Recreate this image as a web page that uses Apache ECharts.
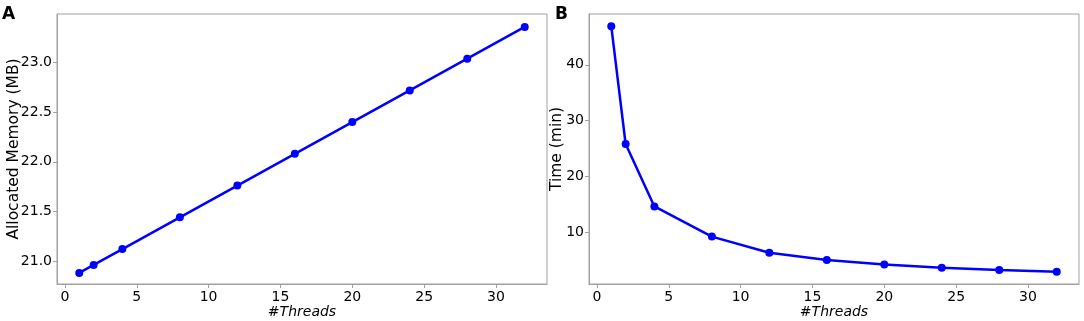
<!DOCTYPE html>
<html>
<head>
<meta charset="utf-8">
<script src="https://cdn.jsdelivr.net/npm/echarts@6/dist/echarts.min.js"></script>
<style>
  html, body { margin: 0; padding: 0; background: #fff; }
  #main { width: 1084px; height: 321px; }
</style>
</head>
<body>
<div id="main"></div>
<script>
// thread counts shared by both panels
const threads = [1, 2, 4, 8, 12, 16, 20, 24, 28, 32];
// panel A: allocated memory (MB)
const memoryMB = [20.88, 20.96, 21.12, 21.44, 21.76, 22.08, 22.40, 22.72, 23.04, 23.36];
// panel B: run time (min)
const timeMin = [46.9, 25.8, 14.6, 9.2, 6.3, 5.0, 4.2, 3.6, 3.2, 2.9];

const xTicks = [0, 5, 10, 15, 20, 25, 30];
const memTicks = [21.0, 21.5, 22.0, 22.5, 23.0];
const timeTicks = [10, 20, 30, 40];

const font = 'DejaVu Sans';
const spine = '#a0a0a0';

function xAxisFor(idx) {
  return {
    type: 'value', gridIndex: idx, min: -0.55, max: 33.55,
    name: '#Threads', nameLocation: 'middle', nameGap: 21, nameMoveOverlap: false,
    nameTextStyle: { fontFamily: font, fontSize: 14, fontStyle: 'italic', color: '#000' },
    axisLine: { show: true, onZero: false, lineStyle: { color: spine, width: 1 } },
    axisTick: { show: true, length: 4, customValues: xTicks, lineStyle: { color: spine } },
    axisLabel: { customValues: xTicks, fontFamily: font, fontSize: 14, color: '#000', margin: 6 },
    splitLine: { show: false }
  };
}

function yAxisFor(idx, min, max, ticks, name, gap, fmt) {
  return {
    type: 'value', gridIndex: idx, min: min, max: max,
    name: name, nameLocation: 'middle', nameGap: gap, nameMoveOverlap: false,
    nameTextStyle: { fontFamily: font, fontSize: 15.5, color: '#000' },
    axisLine: { show: true, onZero: false, lineStyle: { color: spine, width: 1 } },
    axisTick: { show: true, length: 4, customValues: ticks, lineStyle: { color: spine } },
    axisLabel: { customValues: ticks, fontFamily: font, fontSize: 14, color: '#000', margin: 5,
      formatter: fmt },
    splitLine: { show: false }
  };
}

const chart = echarts.init(document.getElementById('main'), null, { renderer: 'canvas' });

chart.setOption({
  animation: false,
  backgroundColor: '#fff',
  title: [
    { text: 'A', left: 2, top: 6, padding: 0, textStyle: { fontFamily: font, fontSize: 17, fontWeight: 'bold', color: '#000' } },
    { text: 'B', left: 555, top: 6, padding: 0, textStyle: { fontFamily: font, fontSize: 17, fontWeight: 'bold', color: '#000' } }
  ],
  grid: [
    { left: 57, right: 537, top: 14, bottom: 37, outerBoundsMode: 'none', show: true, borderColor: spine, borderWidth: 1, backgroundColor: 'transparent' },
    { left: 589, right: 5, top: 14, bottom: 37, outerBoundsMode: 'none', show: true, borderColor: spine, borderWidth: 1, backgroundColor: 'transparent' }
  ],
  xAxis: [xAxisFor(0), xAxisFor(1)],
  yAxis: [
    yAxisFor(0, 20.768, 23.49, memTicks, 'Allocated Memory (MB)', 35, v => v.toFixed(1)),
    yAxisFor(1, 0.7, 49.1, timeTicks, 'Time (min)', 24, v => String(v))
  ],
  series: [
    {
      type: 'line', xAxisIndex: 0, yAxisIndex: 0,
      data: threads.map((t, i) => [t, memoryMB[i]]),
      symbol: 'circle', symbolSize: 8,
      lineStyle: { color: '#0000ff', width: 2.5 },
      itemStyle: { color: '#0000ff' }
    },
    {
      type: 'line', xAxisIndex: 1, yAxisIndex: 1,
      data: threads.map((t, i) => [t, timeMin[i]]),
      symbol: 'circle', symbolSize: 8,
      lineStyle: { color: '#0000ff', width: 2.5 },
      itemStyle: { color: '#0000ff' }
    }
  ]
});
</script>
</body>
</html>
